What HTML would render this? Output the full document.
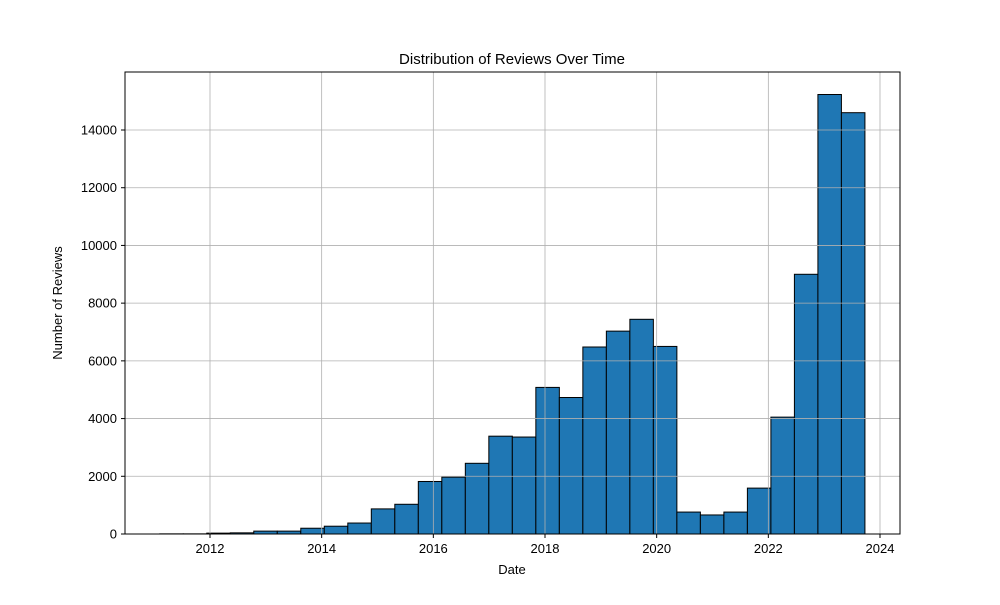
<!DOCTYPE html>
<html><head><meta charset="utf-8"><style>
body{margin:0;background:#fff}
svg text{font-family:"Liberation Sans","DejaVu Sans",sans-serif;fill:#000}
</style></head><body>
<svg id="chart" width="1000" height="600">
<rect x="0" y="0" width="1000" height="600" fill="#fff"/>
<g id="bars"></g>
<g id="grid"></g>
<rect x="125" y="72" width="775" height="462" fill="none" stroke="#000" stroke-width="1"/>
<g id="ticks"></g>
<text x="512" y="64" font-size="15" text-anchor="middle">Distribution of Reviews Over Time</text>
<text x="512" y="574" font-size="13" text-anchor="middle">Date</text>
<text x="62" y="303" font-size="13" text-anchor="middle" transform="rotate(-90 62 303)">Number of Reviews</text>
</svg>
<script>
const binStart = 2011.1;
const binEnd = 2023.73;
const counts = [5,5,30,40,100,100,200,270,380,870,1030,1820,1970,2450,3390,3360,5080,4730,6480,7030,7440,6500,760,660,760,1590,4050,9000,15230,14600];
const xTicks = [2012,2014,2016,2018,2020,2022,2024];
const yTicks = [0,2000,4000,6000,8000,10000,12000,14000];
const NS='http://www.w3.org/2000/svg';
function x(v){return 210+(v-2012)*(670/12);}
function y(v){return 534-v*(404/14000);}
const grid=document.getElementById('grid'),bars=document.getElementById('bars'),ticks=document.getElementById('ticks');
function mk(tag,attrs,parent){const e=document.createElementNS(NS,tag);for(const k in attrs)e.setAttribute(k,attrs[k]);parent.appendChild(e);return e;}
xTicks.forEach(t=>{
  const l=mk('line',{x1:x(t),x2:x(t),y1:72,y2:534,stroke:'#b0b0b0','stroke-width':0.8},grid);
  
  
  mk('line',{x1:x(t),x2:x(t),y1:534,y2:538,stroke:'#000'},ticks);
  const tx=mk('text',{x:x(t),y:553,'font-size':13,'text-anchor':'middle'},ticks);
  tx.textContent=t;
  
  
});
yTicks.forEach(t=>{
  const l=mk('line',{x1:125,x2:900,y1:y(t),y2:y(t),stroke:'#b0b0b0','stroke-width':0.8},grid);
  
  
  mk('line',{x1:121,x2:125,y1:y(t),y2:y(t),stroke:'#000'},ticks);
  const tx=mk('text',{x:117,y:y(t)+4.5,'font-size':13,'text-anchor':'end'},ticks);
  tx.textContent=t;
  
  
});
const w=(binEnd-binStart)/counts.length;
counts.forEach((c,i)=>{
  const x0=x(binStart+i*w),x1=x(binStart+(i+1)*w);
  const r=mk('rect',{x:x0,y:y(c),width:x1-x0,height:534-y(c),fill:'#1f77b4',stroke:'#000','stroke-width':1},bars);
  
  
});
</script>
</body></html>
